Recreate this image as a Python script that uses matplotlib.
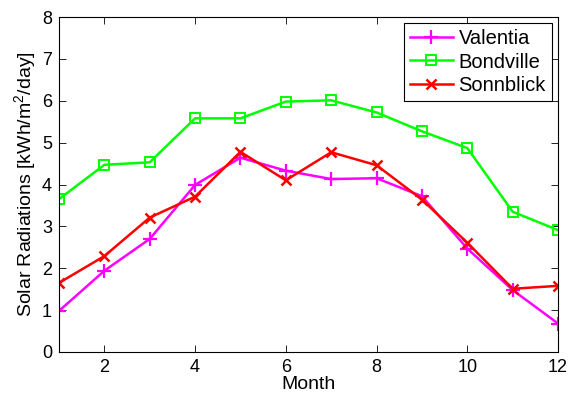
import matplotlib as mpl
mpl.use('Agg')
import matplotlib.pyplot as plt

months = list(range(1, 13))
valentia = [0.98, 1.94, 2.70, 3.99, 4.64, 4.33, 4.13, 4.15, 3.72, 2.47, 1.48, 0.68]
bondville = [3.65, 4.47, 4.53, 5.58, 5.58, 5.98, 6.01, 5.72, 5.27, 4.87, 3.35, 2.91]
sonnblick = [1.65, 2.29, 3.21, 3.71, 4.78, 4.10, 4.77, 4.46, 3.64, 2.61, 1.51, 1.58]
xticks = [2, 4, 6, 8, 10, 12]
yticks = list(range(0, 9))

plt.rcParams['font.family'] = ['Liberation Sans', 'DejaVu Sans']
plt.rcParams['mathtext.fontset'] = 'custom'
plt.rcParams['mathtext.rm'] = 'Liberation Sans'

fig = plt.figure(figsize=(5.71, 4.0), dpi=100)
ax = fig.add_axes([0.1033, 0.12, 0.874, 0.8375])

ax.plot(months, valentia, color=(1, 0, 1), lw=1.8, marker='+', ms=10, mew=1.6, label='Valentia')
ax.plot(months, bondville, color=(0, 1, 0), lw=1.8, marker='s', ms=7.5, mew=1.4,
        mfc='none', label='Bondville')
ax.plot(months, sonnblick, color=(1, 0, 0), lw=1.8, marker='x', ms=7.5, mew=1.8, label='Sonnblick')

ax.set_xlim(1, 12)
ax.set_ylim(0, 8)
ax.set_xticks(xticks)
ax.set_yticks(yticks)
ax.tick_params(direction='in', top=True, right=True, labelsize=13, length=5, width=0.6, pad=5)
for s in ax.spines.values():
    s.set_linewidth(0.8)

ax.set_xlabel('Month', fontsize=14, labelpad=0)
ax.set_ylabel('Solar Radiations [kWh/m$^2$/day]', fontsize=14, labelpad=2)

leg = ax.legend(loc='upper right', fontsize=14.5, fancybox=False, framealpha=1,
                edgecolor='black', borderaxespad=0.3, handlelength=2.1,
                handletextpad=0.3, labelspacing=0.22, borderpad=0.3)
leg.get_frame().set_linewidth(0.8)

fig.savefig('out.png', dpi=100)
